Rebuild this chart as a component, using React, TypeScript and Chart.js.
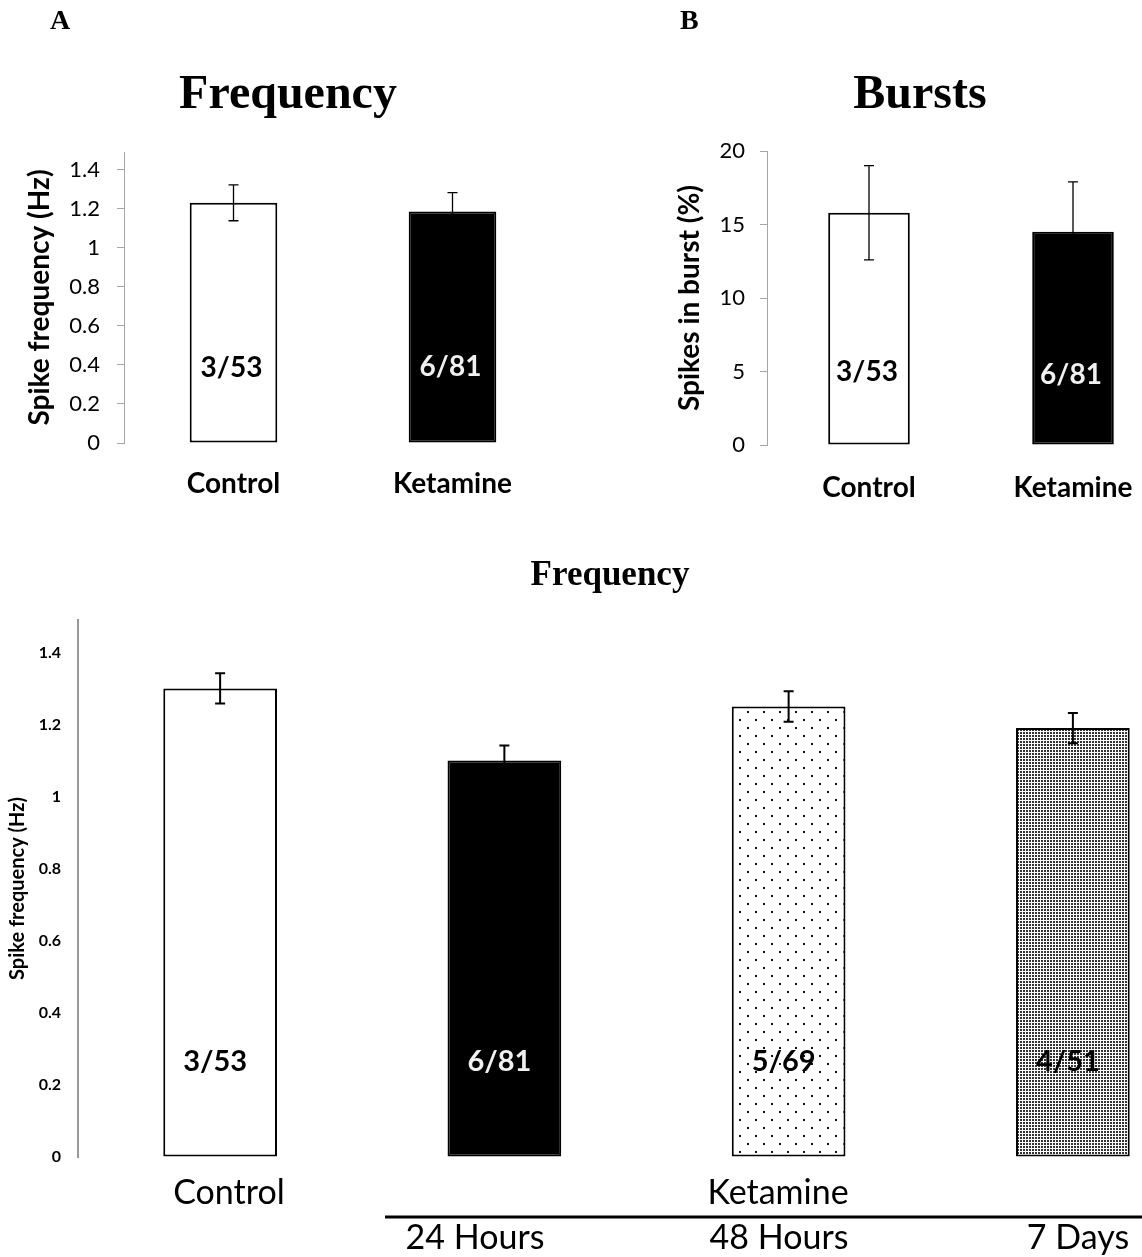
import React, { useEffect, useRef } from 'react';
import { Chart, registerables } from 'chart.js';

Chart.register(...registerables);

// Acute recordings (panels A and B)
const acuteGroups = ['Control', 'Ketamine'];
const acuteFreqMean = [1.23, 1.185];
const acuteFreqSem = [0.092, 0.097];
const acuteBurstMean = [15.8, 14.5];
const acuteBurstSem = [3.2, 3.4];
const acuteCounts = ['3/53', '6/81'];
const freqTickValues = [0, 0.2, 0.4, 0.6, 0.8, 1, 1.2, 1.4];
const burstTickValues = [0, 5, 10, 15, 20];

// Time course after ketamine
const timeGroups = ['Control', '24 Hours', '48 Hours', '7 Days'];
const timeFreqMean = [1.3, 1.1, 1.25, 1.19];
const timeFreqSem = [0.042, 0.042, 0.042, 0.042];
const timeCounts = ['3/53', '6/81', '5/69', '4/51'];
const ketamineGroupLabel = 'Ketamine';

const CALIBRI_LIKE = 'Lato';
const SERIF = '"Liberation Serif", "Times New Roman", serif';

// Error bars plus the n/N counts printed inside each bar
const errorBars = {
  id: 'errorBars',
  afterDatasetsDraw(chart: any, _args: any, o: any) {
    if (!o || !o.sem) return;
    const { ctx } = chart;
    const ys = chart.scales.y;
    const ds = chart.data.datasets[0];
    const meta = chart.getDatasetMeta(0);
    ctx.save();
    meta.data.forEach((bar: any, i: number) => {
      const v = ds.data[i] as number;
      const top = ys.getPixelForValue(v + o.sem[i]);
      const bot = ys.getPixelForValue(v - o.sem[i]);
      ctx.strokeStyle = '#000';
      ctx.lineWidth = o.width;
      ctx.beginPath();
      ctx.moveTo(bar.x, top);
      ctx.lineTo(bar.x, bot);
      ctx.moveTo(bar.x - o.cap, top);
      ctx.lineTo(bar.x + o.cap, top);
      ctx.moveTo(bar.x - o.cap, bot);
      ctx.lineTo(bar.x + o.cap, bot);
      ctx.stroke();
      ctx.font = o.countFont;
      ctx.fillStyle = o.countColors[i];
      ctx.textAlign = 'center';
      ctx.textBaseline = 'middle';
      ctx.fillText(o.counts[i], bar.x + o.countDx, ys.getPixelForValue(o.countAt[i]));
      if (o.xLabelFont) {
        ctx.font = o.xLabelFont;
        ctx.fillStyle = '#000';
        ctx.fillText(String(chart.data.labels[i]), bar.x, chart.chartArea.bottom + o.xLabelDy);
      }
    });
    ctx.restore();
  },
};

// Free text (titles, panel letters, group labels) and rules
const annotations = {
  id: 'annotations',
  afterDraw(chart: any, _args: any, o: any) {
    if (!o) return;
    const { ctx } = chart;
    ctx.save();
    (o.lines || []).forEach((l: any) => {
      ctx.strokeStyle = '#000';
      ctx.lineWidth = l.width;
      ctx.beginPath();
      ctx.moveTo(l.x1, l.y);
      ctx.lineTo(l.x2, l.y);
      ctx.stroke();
    });
    (o.items || []).forEach((t: any) => {
      ctx.font = t.font;
      ctx.fillStyle = '#000';
      ctx.textAlign = t.align || 'center';
      ctx.textBaseline = t.baseline || 'middle';
      ctx.fillText(t.text, t.x, t.y);
    });
    ctx.restore();
  },
};

function makePattern(size: number, dots: number[][], dot: number, color: string) {
  const c = document.createElement('canvas');
  c.width = size;
  c.height = size;
  const g = c.getContext('2d')!;
  g.fillStyle = '#fff';
  g.fillRect(0, 0, size, size);
  g.fillStyle = color;
  dots.forEach(([x, y]) => g.fillRect(x, y, dot, dot));
  return g.createPattern(c, 'repeat')!;
}

function yAxis(opts: {
  max: number; ticks: number[]; width: number; title: string; titleFont: any; titlePad: number;
  tickFont: any; tickPad: number; tickLen: number; color: string; lineWidth: number;
}) {
  return {
    min: 0,
    max: opts.max,
    afterBuildTicks: (s: any) => {
      s.ticks = opts.ticks.map((v) => ({ value: v }));
    },
    afterFit: (s: any) => {
      s.width = opts.width;
    },
    border: { display: true, color: opts.color, width: opts.lineWidth },
    grid: {
      drawOnChartArea: false,
      drawTicks: opts.tickLen > 0,
      tickLength: opts.tickLen,
      color: opts.color,
      lineWidth: 1,
    },
    ticks: {
      padding: opts.tickPad,
      color: '#000',
      font: opts.tickFont,
      callback: (v: any) => String(v),
    },
    title: {
      display: true,
      text: opts.title,
      color: '#000',
      font: opts.titleFont,
      padding: { top: opts.titlePad, bottom: 0 },
    },
  };
}

function baseOptions(padding: any, y: any, plugins: any) {
  return {
    responsive: false,
    animation: false as const,
    events: [],
    layout: { padding },
    scales: { x: { display: false }, y },
    plugins: {
      legend: { display: false },
      tooltip: { enabled: false },
      title: { display: false },
      ...plugins,
    },
  };
}

function acuteFreqConfig() {
  return {
    type: 'bar' as const,
    data: {
      labels: acuteGroups,
      datasets: [
        {
          data: acuteFreqMean,
          backgroundColor: ['#ffffff', '#000000'],
          borderColor: '#000',
          borderWidth: 2,
          borderSkipped: false,
          barPercentage: 0.4,
          categoryPercentage: 1,
        },
      ],
    },
    options: baseOptions(
      { left: 0, top: 152, right: 8, bottom: 77 },
      yAxis({
        max: 1.49, ticks: freqTickValues, width: 124, title: 'Spike frequency (Hz)',
        titleFont: { family: CALIBRI_LIKE, size: 28, weight: 'bold' }, titlePad: 23,
        tickFont: { family: CALIBRI_LIKE, size: 22 }, tickPad: 17, tickLen: 7,
        color: '#a6a6a6', lineWidth: 1,
      }),
      {
        errorBars: {
          sem: acuteFreqSem, width: 1.3, cap: 5, counts: acuteCounts,
          countColors: ['#000', '#f0f0f0'], countAt: [0.385, 0.39], countDx: -2,
          countFont: `bold 28px ${CALIBRI_LIKE}`,
          xLabelFont: `bold 28px ${CALIBRI_LIKE}`, xLabelDy: 41,
        },
        annotations: {
          items: [
            { text: 'A', x: 50, y: 29, align: 'left', baseline: 'alphabetic', font: `bold 28px ${SERIF}` },
            { text: 'Frequency', x: 288, y: 108, baseline: 'alphabetic', font: `bold 48px ${SERIF}` },
          ],
        },
      }
    ),
    plugins: [errorBars, annotations],
  };
}

function acuteBurstConfig() {
  return {
    type: 'bar' as const,
    data: {
      labels: acuteGroups,
      datasets: [
        {
          data: acuteBurstMean,
          backgroundColor: ['#ffffff', '#000000'],
          borderColor: '#000',
          borderWidth: 2,
          borderSkipped: false,
          barPercentage: 0.4,
          categoryPercentage: 1,
        },
      ],
    },
    options: baseOptions(
      { left: 0, top: 151, right: 45, bottom: 75 },
      yAxis({
        max: 20, ticks: burstTickValues, width: 197, title: 'Spikes in burst (%)',
        titleFont: { family: CALIBRI_LIKE, size: 28, weight: 'bold' }, titlePad: 103,
        tickFont: { family: CALIBRI_LIKE, size: 22 }, tickPad: 15, tickLen: 7,
        color: '#a6a6a6', lineWidth: 1,
      }),
      {
        errorBars: {
          sem: acuteBurstSem, width: 1.3, cap: 5, counts: acuteCounts,
          countColors: ['#000', '#f0f0f0'], countAt: [4.95, 4.75], countDx: -2,
          countFont: `bold 28px ${CALIBRI_LIKE}`,
          xLabelFont: `bold 28px ${CALIBRI_LIKE}`, xLabelDy: 43,
        },
        annotations: {
          items: [
            { text: 'B', x: 110, y: 29, align: 'left', baseline: 'alphabetic', font: `bold 28px ${SERIF}` },
            { text: 'Bursts', x: 350, y: 108, baseline: 'alphabetic', font: `bold 48px ${SERIF}` },
          ],
        },
      }
    ),
    plugins: [errorBars, annotations],
  };
}

function timeCourseConfig() {
  const sparse = makePattern(16, [[3, 3], [11, 11]], 2, '#111');
  const dense = makePattern(3, [[0, 0]], 2, '#333');
  return {
    type: 'bar' as const,
    data: {
      labels: timeGroups,
      datasets: [
        {
          data: timeFreqMean,
          backgroundColor: ['#ffffff', '#000000', sparse, dense],
          borderColor: '#000',
          borderWidth: 2,
          borderSkipped: false,
          barPercentage: 0.4,
          categoryPercentage: 1,
        },
      ],
    },
    options: baseOptions(
      { left: 0, top: 80, right: 15, bottom: 100 },
      yAxis({
        max: 1.49, ticks: freqTickValues, width: 78, title: 'Spike frequency (Hz)',
        titleFont: { family: CALIBRI_LIKE, size: 20, weight: 'bold' }, titlePad: 6,
        tickFont: { family: CALIBRI_LIKE, size: 16, weight: 'bold' }, tickPad: 17, tickLen: 0,
        color: '#999999', lineWidth: 2,
      }),
      {
        errorBars: {
          sem: timeFreqSem, width: 2, cap: 5, counts: timeCounts,
          countColors: ['#000', '#f0f0f0', '#000', '#000'], countAt: [0.264, 0.264, 0.264, 0.264],
          countDx: -5, countFont: `bold 29px ${CALIBRI_LIKE}`,
        },
        annotations: {
          lines: [{ x1: 385, x2: 1230, y: 677, width: 3 }],
          items: [
            { text: 'Frequency', x: 610, y: 45, baseline: 'alphabetic', font: `bold 35px ${SERIF}` },
            { text: timeGroups[0], x: 229, y: 653, font: `34px ${CALIBRI_LIKE}` },
            { text: ketamineGroupLabel, x: 778, y: 653, font: `34px ${CALIBRI_LIKE}` },
            { text: timeGroups[1], x: 475, y: 698, font: `34px ${CALIBRI_LIKE}` },
            { text: timeGroups[2], x: 779, y: 698, font: `34px ${CALIBRI_LIKE}` },
            { text: timeGroups[3], x: 1078, y: 698, font: `34px ${CALIBRI_LIKE}` },
          ],
        },
      }
    ),
    plugins: [errorBars, annotations],
  };
}

function Panel(props: { make: () => any; left: number; top: number; width: number; height: number }) {
  const ref = useRef<HTMLCanvasElement>(null);
  useEffect(() => {
    const chart = new Chart(ref.current as HTMLCanvasElement, props.make());
    return () => chart.destroy();
  }, []);
  return (
    <canvas
      ref={ref}
      width={props.width}
      height={props.height}
      style={{ position: 'absolute', left: props.left, top: props.top, width: props.width, height: props.height }}
    />
  );
}

export default function App() {
  return (
    <div
      style={{
        position: 'absolute',
        left: 0,
        top: 0,
        width: 1142,
        height: 1257,
        overflow: 'hidden',
        background: '#fff',
      }}
    >
      <Panel make={acuteFreqConfig} left={0} top={0} width={570} height={520} />
      <Panel make={acuteBurstConfig} left={570} top={0} width={650} height={520} />
      <Panel make={timeCourseConfig} left={0} top={540} width={1230} height={717} />
    </div>
  );
}
